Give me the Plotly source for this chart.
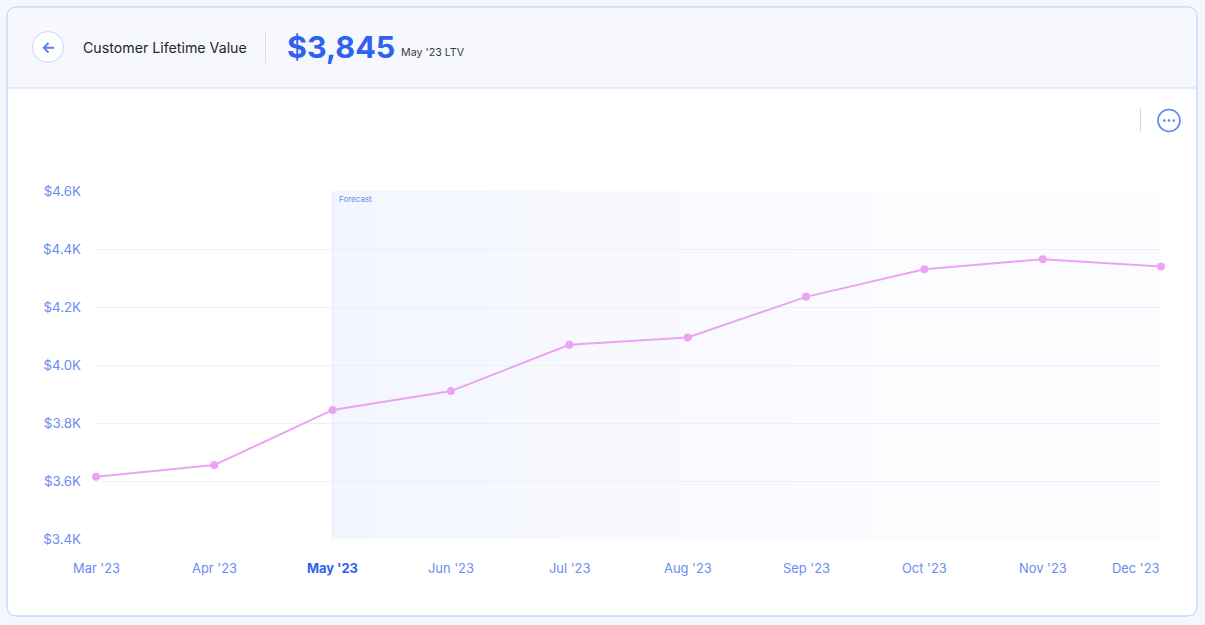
import plotly.graph_objects as go

# ---- data ----
months = ["Mar '23", "Apr '23", "May '23", "Jun '23", "Jul '23",
          "Aug '23", "Sep '23", "Oct '23", "Nov '23", "Dec '23"]
ltv = [3615, 3655, 3845, 3910, 4070, 4095, 4235, 4330, 4365, 4340]
y_ticks = [3400, 3600, 3800, 4000, 4200, 4400, 4600]
y_tick_labels = ["$3.4K", "$3.6K", "$3.8K", "$4.0K", "$4.2K", "$4.4K", "$4.6K"]
forecast_start = "May '23"
headline_value = "$3,845"
headline_sub = "May '23 LTV"
title = "Customer Lifetime Value"

# ---- layout geometry (pixels) ----
W, H = 1205, 625
L, R, T, B = 96, 44, 191, 86
PW, PH = W - L - R, H - T - B

def px(x):
    return (x - L) / PW

def py(y):
    return (H - B - y) / PH

BLUE = "#6a8cf2"
DARKBLUE = "#2f62ee"
BORDER = "#c9d6fb"
LINE = "#eca3f3"

fig = go.Figure()
fig.add_trace(go.Scatter(
    x=months, y=ltv, mode="lines+markers",
    line=dict(color=LINE, width=2),
    marker=dict(color=LINE, size=8),
    hoverinfo="skip", showlegend=False, cliponaxis=False,
))

shapes = []

def rounded_rect(x0, y0, x1, y1, r, top_only=False):
    if top_only:
        pts = (f"M {px(x0)},{py(y1)} L {px(x0)},{py(y0 + r)} "
               f"Q {px(x0)},{py(y0)} {px(x0 + r)},{py(y0)} "
               f"L {px(x1 - r)},{py(y0)} Q {px(x1)},{py(y0)} {px(x1)},{py(y0 + r)} "
               f"L {px(x1)},{py(y1)} Z")
    else:
        pts = (f"M {px(x0 + r)},{py(y0)} L {px(x1 - r)},{py(y0)} "
               f"Q {px(x1)},{py(y0)} {px(x1)},{py(y0 + r)} "
               f"L {px(x1)},{py(y1 - r)} Q {px(x1)},{py(y1)} {px(x1 - r)},{py(y1)} "
               f"L {px(x0 + r)},{py(y1)} Q {px(x0)},{py(y1)} {px(x0)},{py(y1 - r)} "
               f"L {px(x0)},{py(y0 + r)} Q {px(x0)},{py(y0)} {px(x0 + r)},{py(y0)} Z")
    return pts

# card
shapes.append(dict(type="path", xref="paper", yref="paper", layer="below",
                   path=rounded_rect(7, 7, 1197, 616, 10),
                   fillcolor="white", line=dict(color=BORDER, width=1)))
# header band
shapes.append(dict(type="path", xref="paper", yref="paper", layer="below",
                   path=rounded_rect(7.5, 7.5, 1196.5, 88, 10, top_only=True),
                   fillcolor="#f6f8fe", line=dict(width=0)))
shapes.append(dict(type="line", xref="paper", yref="paper", layer="below",
                   x0=px(7.5), x1=px(1196.5), y0=py(88), y1=py(88),
                   line=dict(color="#d3ddfb", width=1)))
# card border redraw on top of header
shapes.append(dict(type="path", xref="paper", yref="paper", layer="below",
                   path=rounded_rect(7, 7, 1197, 616, 10),
                   fillcolor="rgba(0,0,0,0)", line=dict(color=BORDER, width=1)))

# back button
shapes.append(dict(type="circle", xref="paper", yref="paper", layer="above",
                   x0=px(32.5), x1=px(63.5), y0=py(31.5), y1=py(62.5),
                   fillcolor="white", line=dict(color="#cdd9fb", width=1)))
shapes.append(dict(type="path", xref="paper", yref="paper", layer="above",
                   path=f"M {px(48.5)},{py(43)} L {px(43.8)},{py(47.8)} L {px(48.5)},{py(52.6)} "
                        f"M {px(44)},{py(47.8)} L {px(54)},{py(47.8)}",
                   line=dict(color="#5b82f0", width=2)))
# header separator
shapes.append(dict(type="line", xref="paper", yref="paper", layer="above",
                   x0=px(265.5), x1=px(265.5), y0=py(31), y1=py(63),
                   line=dict(color="#d9dde8", width=1)))
# top-right controls
shapes.append(dict(type="line", xref="paper", yref="paper", layer="above",
                   x0=px(1140.5), x1=px(1140.5), y0=py(108), y1=py(131),
                   line=dict(color=BORDER, width=1)))
shapes.append(dict(type="circle", xref="paper", yref="paper", layer="above",
                   x0=px(1158), x1=px(1180), y0=py(109.5), y1=py(131.5),
                   fillcolor="white", line=dict(color="#5b82f0", width=1.6)))
for cx in (1164.3, 1169, 1173.7):
    shapes.append(dict(type="circle", xref="paper", yref="paper", layer="above",
                       x0=px(cx - 1.3), x1=px(cx + 1.3), y0=py(119.2), y1=py(121.8),
                       fillcolor="#5b82f0", line=dict(width=0)))

# forecast shading (gradient slices)
i0 = months.index(forecast_start)
i_end = len(months) - 1
fade_end = 6.55
n = 14
for k in range(n):
    a = 0.065 - (0.065 - 0.03) * k / (n - 1)
    xa = i0 + (fade_end - i0) * k / n
    xb = i0 + (fade_end - i0) * (k + 1) / n
    shapes.append(dict(type="rect", xref="x", yref="y domain", layer="below",
                       x0=xa, x1=xb, y0=0, y1=1,
                       fillcolor=f"rgba(80,120,240,{a:.4f})", line=dict(width=0)))
shapes.append(dict(type="rect", xref="x", yref="y domain", layer="below",
                   x0=fade_end, x1=i_end, y0=0, y1=1,
                   fillcolor="rgba(80,120,240,0.02)", line=dict(width=0)))
shapes.append(dict(type="line", xref="x", yref="y domain", layer="below",
                   x0=i0, x1=i0, y0=0, y1=1,
                   line=dict(color="#dfe5fb", width=1)))

annotations = [
    dict(text=title, xref="paper", yref="paper", x=px(81), y=py(47),
         xanchor="left", yanchor="middle", showarrow=False,
         font=dict(family="Inter", size=14.2, color="#23262f", weight=400)),
    dict(text=headline_value, xref="paper", yref="paper", x=px(285), y=py(46.5),
         xanchor="left", yanchor="middle", showarrow=False,
         font=dict(family="Inter", size=30.5, color=DARKBLUE, weight=700)),
    dict(text=headline_sub, xref="paper", yref="paper", x=px(399), y=py(52.5),
         xanchor="left", yanchor="middle", showarrow=False,
         font=dict(family="Inter", size=10.7, color="#3a3d47")),
    dict(text="Forecast", xref="x", yref="paper", x=i0, y=py(199),
         xanchor="left", yanchor="middle", xshift=4, showarrow=False,
         font=dict(family="Inter", size=8, color=BLUE)),
]
for i, m in enumerate(months):
    bold = (m == forecast_start)
    last = (i == len(months) - 1)
    annotations.append(dict(
        text=f"<b>{m}</b>" if bold else m, xref="x", yref="paper", x=i, y=py(568),
        xanchor="right" if last else "center", yanchor="middle", showarrow=False,
        xshift=1 if last else 0,
        font=dict(family="Inter", size=12.9, color=DARKBLUE if bold else BLUE),
    ))

fig.update_layout(
    width=W, height=H,
    margin=dict(l=L, r=R, t=T, b=B, pad=0),
    paper_bgcolor="#f5f7fe", plot_bgcolor="rgba(0,0,0,0)",
    shapes=shapes, annotations=annotations,
    showlegend=False, hovermode=False,
    xaxis=dict(type="category", range=[0, len(months) - 1], showgrid=False,
               zeroline=False, showline=False, showticklabels=False, ticks=""),
    yaxis=dict(range=[y_ticks[0], y_ticks[-1]], tickvals=y_ticks, ticktext=y_tick_labels,
               showgrid=True, gridcolor="#eceff9", gridwidth=1, zeroline=False,
               showline=False, ticks="", ticklabelstandoff=14,
               tickfont=dict(family="Inter", size=13.3, color=BLUE)),
)

fig.write_html("out.html", config={"displayModeBar": False},
               post_script="document.body.style.margin='0';document.body.style.overflow='hidden';")
